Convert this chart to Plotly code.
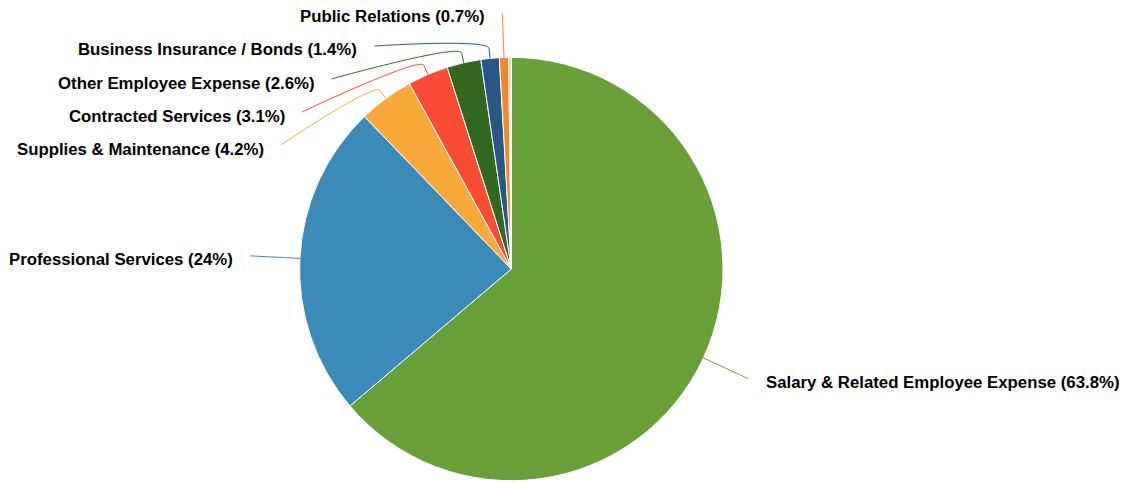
import math
import plotly.graph_objects as go

# Expense breakdown (percent of total)
categories = [
    "Salary & Related Employee Expense",
    "Professional Services",
    "Supplies & Maintenance",
    "Contracted Services",
    "Other Employee Expense",
    "Business Insurance / Bonds",
    "Public Relations",
    "Miscellaneous",
    "Other",
]
shares = [63.8, 24, 4.2, 3.1, 2.6, 1.4, 0.7, 0.1, 0.1]
colors = ["#6aa03a", "#3b8ab7", "#f9aa3a", "#fa4b37", "#336822",
          "#2a5886", "#f4872b", "#d8352a", "#9fcc66"]

# Canvas and pie geometry (pixels, y downward)
W, H = 1124, 482
CX, CY, R = 511.3, 269.0, 211.7
LABEL_DIST = 50          # label anchor distance outside the rim
BREAK_OFF = 10           # connector bend distance outside the rim
LINE_H = 33              # minimum vertical spacing between labels
TOP, BOTTOM = 13, H - 13
TEXT_GAP = 17            # gap between connector end and label text
MIN_LABEL_SHARE = 0.5    # slices smaller than this get no label
FONT = dict(family="Liberation Sans, Arial, Helvetica, sans-serif", size=16.8, color="#000000")


def px(x):
    return x / W


def py(y):
    return 1 - y / H


total = sum(shares)
RL = R + LABEL_DIST


def get_x(y, left):
    d = max(-1.0, min(1.0, (y - CY) / RL))
    return CX + (-1 if left else 1) * math.cos(math.asin(d)) * RL


# Slice mid-angles (from 3 o'clock, clockwise on screen, first slice starts at 12 o'clock)
points = []
cum = 0.0
for name, v, col in zip(categories, shares, colors):
    ang = math.radians(-90 + 360 * (cum + v / 2) / total)
    cum += v
    if v < MIN_LABEL_SHARE:
        continue
    c, s = math.cos(ang), math.sin(ang)
    points.append(dict(name=name, v=v, col=col, c=c, s=s,
                       left=c < 0, ny=CY + s * RL))

# Spread labels on each side so they do not overlap
for side in (True, False):
    grp = sorted([p for p in points if p["left"] == side], key=lambda p: p["ny"])
    prev = None
    for p in grp:
        y = max(p["ny"], TOP) if prev is None else max(p["ny"], prev + LINE_H)
        p["y"] = y
        prev = y
    nxt = None
    for p in reversed(grp):
        y = min(p["y"], BOTTOM) if nxt is None else min(p["y"], nxt - LINE_H)
        p["y"] = y
        nxt = y
    for p in grp:
        # labels pushed against the top/bottom keep their natural x
        at_edge = p["y"] <= TOP + 2 or p["y"] >= BOTTOM - 2
        p["x"] = get_x(p["ny"] if at_edge else p["y"], side)

shapes = []
annotations = []
for p in points:
    tx, ty = CX + R * p["c"], CY + R * p["s"]
    bx, by = CX + (R + BREAK_OFF) * p["c"], CY + (R + BREAK_OFF) * p["s"]
    c2x, c2y = 2 * bx - tx, 2 * by - ty
    sx, sy = p["x"], p["y"]
    path = (f"M {px(sx)},{py(sy)} C {px(sx)},{py(sy)} {px(c2x)},{py(c2y)} "
            f"{px(bx)},{py(by)} L {px(tx)},{py(ty)}")
    shapes.append(dict(type="path", xref="paper", yref="paper", path=path,
                       line=dict(color=p["col"], width=1), layer="above"))
    annotations.append(dict(
        xref="paper", yref="paper",
        x=px(sx - TEXT_GAP if p["left"] else sx + TEXT_GAP), y=py(sy + 4),
        xanchor="right" if p["left"] else "left", yanchor="middle",
        text=f"<b>{p['name']} ({p['v']:g}%)</b>", showarrow=False,
        font=FONT, borderpad=0, borderwidth=0,
    ))

fig = go.Figure(go.Pie(
    labels=categories,
    values=shares,
    marker=dict(colors=colors, line=dict(color="#ffffff", width=1)),
    sort=False,
    direction="clockwise",
    rotation=0,
    textinfo="none",
    hoverinfo="label+percent",
    domain=dict(x=[px(CX - R), px(CX + R)], y=[py(CY + R), py(CY - R)]),
))

fig.update_layout(
    width=W, height=H,
    margin=dict(l=0, r=0, t=0, b=0),
    paper_bgcolor="#ffffff",
    plot_bgcolor="#ffffff",
    showlegend=False,
    shapes=shapes,
    annotations=annotations,
)

fig.write_html("out.html")
